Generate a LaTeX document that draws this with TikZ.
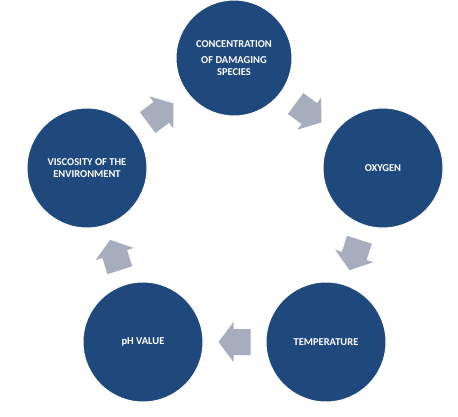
\documentclass[tikz,border=0pt]{standalone}
\usepackage{fontspec}
\setmainfont{Carlito}
\usetikzlibrary{calc}
\definecolor{circblue}{RGB}{31,73,125}
\definecolor{arrgray}{RGB}{166,173,189}
\begin{document}
\begin{tikzpicture}[x=1pt,y=-1pt,
  circ/.style={circle, fill=circblue, draw=white, line width=1pt, minimum size=120pt,
    inner sep=0pt, text=white, font=\bfseries\fontsize{10.5}{11.5}\selectfont, align=center},
  cycarrow/.pic={\fill[arrgray] (-16,-13) -- (1,-13) -- (1,-20) -- (16,0) -- (1,20) -- (1,13) -- (-16,13) -- cycle;}]
\useasboundingbox[fill=white] (0,0) rectangle (458,417);
\node[circ, minimum size=116pt] (conc) at (234,58) {CONCENTRATION\\[5pt]OF DAMAGING\\SPECIES};
\node[circ] (oxy) at (383,168) {OXYGEN};
\node[circ] (temp) at (326,342) {TEMPERATURE};
\node[circ] (ph) at (143,342) {pH VALUE};
\node[circ] (visc) at (87,168) {VISCOSITY OF THE\\ENVIRONMENT};
\foreach \a/\b in {visc/conc, conc/oxy, oxy/temp, temp/ph, ph/visc}{
  \path let \p1=($(\b)-(\a)$), \n1={atan2(\y1,\x1)} in ($(\a)!0.5!(\b)$) pic[rotate=\n1] {cycarrow};
}
\end{tikzpicture}
\end{document}
